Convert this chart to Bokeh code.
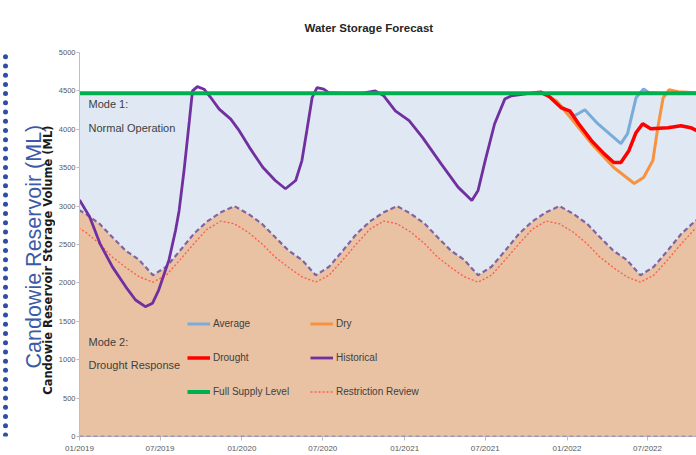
import math
import pandas as pd
from bokeh.plotting import figure
from bokeh.layouts import row
from bokeh.models import (Label, Legend, LegendItem, FixedTicker,
                          DatetimeTickFormatter, Range1d, Span)
from bokeh.core.properties import value
from bokeh.embed import file_html
from bokeh.resources import INLINE

# ---------------- data ----------------
FSL = 4470

# drought trigger (Mode 1 / Mode 2 boundary), monthly, mid-month, Dec-2018 .. Nov-2022
trigger_values = [3000,
                  2900, 2770, 2600, 2420, 2300, 2100, 2210, 2420, 2640, 2800, 2920, 3000,
                  2900, 2770, 2600, 2420, 2300, 2100, 2210, 2420, 2640, 2800, 2920, 3000,
                  2900, 2770, 2600, 2420, 2300, 2100, 2210, 2420, 2640, 2800, 2920, 3000,
                  2900, 2770, 2600, 2420, 2300, 2100, 2210, 2420, 2640, 2800, 2920]
# restriction review, monthly, mid-month, Dec-2018 .. Nov-2022
restriction_values = [2770,
                      2660, 2510, 2340, 2200, 2080, 2010, 2100, 2300, 2510, 2700, 2805, 2770,
                      2660, 2510, 2340, 2200, 2080, 2010, 2100, 2300, 2510, 2700, 2805, 2770,
                      2660, 2510, 2340, 2200, 2080, 2010, 2100, 2300, 2510, 2700, 2805, 2770,
                      2660, 2510, 2340, 2200, 2080, 2010, 2100, 2300, 2510, 2700, 2805]
monthly_dates = pd.date_range("2018-12-01", periods=len(trigger_values), freq="MS") + pd.Timedelta(days=14)

hist_dates = ["2019-01-01", "2019-01-24", "2019-02-16", "2019-03-16", "2019-04-15", "2019-05-07",
              "2019-05-29", "2019-06-14", "2019-06-28", "2019-07-21", "2019-08-05", "2019-08-13",
              "2019-08-24", "2019-09-05", "2019-09-12", "2019-09-23", "2019-10-08", "2019-10-23",
              "2019-11-11", "2019-12-07", "2019-12-26", "2020-01-18", "2020-02-17", "2020-03-16",
              "2020-04-08", "2020-05-01", "2020-05-15", "2020-05-26", "2020-06-07", "2020-06-18",
              "2020-07-03", "2020-07-14", "2020-08-13", "2020-09-28", "2020-10-27", "2020-11-15",
              "2020-12-11", "2021-01-11", "2021-02-10", "2021-03-24", "2021-05-01", "2021-06-01",
              "2021-06-15", "2021-07-01", "2021-07-22", "2021-08-14", "2021-08-29", "2021-09-14",
              "2021-11-01"]
hist_values = [3080, 2857, 2512, 2209, 1949, 1777,
               1690, 1734, 1907, 2296, 2685, 2944,
               3463, 4112, 4500, 4556, 4522, 4414,
               4263, 4133, 3982, 3765, 3506, 3333,
               3226, 3333, 3593, 3982, 4414, 4543,
               4522, 4478, 4470, 4470, 4500, 4436,
               4241, 4112, 3895, 3550, 3247, 3074,
               3204, 3593, 4069, 4393, 4436, 4449,
               4488]

avg_dates = ["2021-11-01", "2021-11-27", "2021-12-12", "2022-01-18", "2022-02-10", "2022-03-11",
             "2022-05-02", "2022-05-17", "2022-06-05", "2022-06-22", "2022-07-04", "2022-08-01",
             "2022-11-01"]
avg_values = [4488, 4410, 4328, 4176, 4254, 4073, 3813, 3943, 4410, 4526, 4475, 4465, 4465]

dry_dates = ["2021-11-01", "2021-12-08", "2022-01-11", "2022-02-25", "2022-04-16", "2022-06-01",
             "2022-06-22", "2022-07-13", "2022-07-24", "2022-08-05", "2022-08-18", "2022-09-08",
             "2022-10-20", "2022-11-01"]
dry_values = [4488, 4371, 4137, 3813, 3502, 3294, 3372, 3593, 4021, 4410, 4514, 4488, 4475, 4470]

drought_dates = ["2021-11-01", "2021-11-20", "2021-12-19", "2022-01-07", "2022-01-27", "2022-02-25",
                 "2022-03-25", "2022-04-16", "2022-05-02", "2022-05-20", "2022-06-05", "2022-06-20",
                 "2022-07-08", "2022-08-16", "2022-09-14", "2022-10-06", "2022-10-20", "2022-11-01"]
drought_values = [4488, 4436, 4280, 4241, 4073, 3852, 3683, 3567, 3567, 3722, 3956, 4073,
                  4008, 4021, 4047, 4021, 3982, 3950]

tick_dates = ["2019-01-01", "2019-07-01", "2020-01-01", "2020-07-01",
              "2021-01-01", "2021-07-01", "2022-01-01", "2022-07-01", "2023-01-01"]
y_ticks = [0, 500, 1000, 1500, 2000, 2500, 3000, 3500, 4000, 4500, 5000]

# ---------------- styles ----------------
FONT = "Liberation Sans"
C_TRIG = "#8064a2"
C_REST = "#ff5f4f"
C_HIST = "#7030a0"
C_AVG = "#79acd8"
C_DRY = "#f7923f"
C_DROUGHT = "#ff0000"
C_FSL = "#00b050"
C_SLIDE = "#3b5aa8"

H = 455
DECO_W = 55

x_start = pd.Timestamp("2019-01-01")
x_end = pd.Timestamp("2022-10-19")

# ---------- left slide decoration (dotted rule, captions) ----------
deco = figure(width=DECO_W, height=H, x_range=Range1d(0, DECO_W), y_range=Range1d(0, H),
              output_backend="svg", toolbar_location=None,
              min_border_left=0, min_border_right=0, min_border_top=0, min_border_bottom=0)
deco.axis.visible = False
deco.grid.visible = False
deco.outline_line_color = None
dot_y = [H - (5 + 10.93 * k) for k in range(42)]
deco.scatter(x=[5] * len(dot_y), y=dot_y, size=5, fill_color="#2f4fa6", line_color=None)
deco.text(x=[33], y=[H - 230], text=["Candowie Reservoir (ML)"], angle=math.pi / 2,
          text_font=value(FONT), text_font_size=value("21.5px"), text_color=C_SLIDE,
          text_align="center", text_baseline="middle")
deco.text(x=[47.5], y=[H - 246], text=["Candowie Reservoir Storage Volume (ML)"], angle=math.pi / 2,
          text_font=value("DejaVu Sans"), text_font_style="bold", text_font_size=value("11.5px"),
          text_color="#1a1a1a", text_align="center", text_baseline="middle")

# ---------- main chart ----------
p = figure(width=696 - DECO_W, height=H, x_axis_type="datetime",
           x_range=Range1d(x_start, x_end), y_range=Range1d(0, 5000),
           output_backend="svg", toolbar_location=None,
           min_border_left=76 - DECO_W, min_border_right=0, min_border_top=52, min_border_bottom=18)
p.outline_line_color = None
p.xgrid.visible = False
p.ygrid.ticker = FixedTicker(ticks=[5000])
p.ygrid.grid_line_color = "#d9d9d9"

p.title.text = "Water Storage Forecast"
p.title.align = "left"
p.title.offset = 225
p.title.standoff = 37
p.title.text_font = FONT
p.title.text_font_size = "11.5px"
p.title.text_font_style = "bold"
p.title.text_color = "#262626"

mdates = pd.to_datetime(monthly_dates)
p.varea(x=mdates, y1=trigger_values, y2=[FSL] * len(trigger_values), fill_color="#dfe8f3")
p.varea(x=mdates, y1=[0] * len(trigger_values), y2=trigger_values, fill_color="#e9c2a3")

p.add_layout(Span(location=0, dimension="width", line_color=C_TRIG, line_dash="4 3", line_width=1.5))
r_trig = p.line(mdates, trigger_values, line_color=C_TRIG, line_dash="5 3", line_width=2.2)
r_rest = p.line(mdates, restriction_values, line_color=C_REST, line_dash="2 2", line_width=1.4)

r_avg = p.line(pd.to_datetime(avg_dates), avg_values, line_color=C_AVG, line_width=3)
r_dry = p.line(pd.to_datetime(dry_dates), dry_values, line_color=C_DRY, line_width=3)
r_dr = p.line(pd.to_datetime(drought_dates), drought_values, line_color=C_DROUGHT, line_width=3.5)
r_hist = p.line(pd.to_datetime(hist_dates), hist_values, line_color=C_HIST, line_width=2.8)
r_fsl = p.line([mdates[0], mdates[-1]], [FSL, FSL], line_color=C_FSL, line_width=4)

# axes
p.xaxis.ticker = FixedTicker(ticks=[pd.Timestamp(d).value // 10**6 for d in tick_dates])
fmt = "%m/%Y"
p.xaxis.formatter = DatetimeTickFormatter(years=fmt, months=fmt, days=fmt, hours=fmt,
                                          minutes=fmt, seconds=fmt, milliseconds=fmt)
p.xaxis.axis_line_color = "#bfbfbf"
p.xaxis.major_tick_line_color = "#bfbfbf"
p.xaxis.major_tick_out = 4
p.xaxis.major_tick_in = 0
p.xaxis.minor_tick_line_color = None
p.xaxis.major_label_standoff = 3
p.xaxis.major_label_text_font = FONT
p.xaxis.major_label_text_font_size = "8px"
p.xaxis.major_label_text_color = "#595959"

p.yaxis.ticker = FixedTicker(ticks=y_ticks)
p.yaxis.axis_line_color = "#bfbfbf"
p.yaxis.major_tick_line_color = "#bfbfbf"
p.yaxis.major_tick_out = 3
p.yaxis.major_tick_in = 0
p.yaxis.minor_tick_line_color = None
p.yaxis.major_label_standoff = 1
p.yaxis.major_label_text_font = FONT
p.yaxis.major_label_text_font_size = "7.5px"
p.yaxis.major_label_text_color = "#595959"

# legends (two columns)
leg_kw = dict(background_fill_alpha=0, border_line_alpha=0, padding=0, margin=0,
              spacing=21, glyph_width=23, glyph_height=13, label_height=13, label_standoff=3,
              label_text_font=FONT, label_text_font_size="10px", label_text_color="#404040")
leg1 = Legend(items=[LegendItem(label="Average", renderers=[r_avg]),
                     LegendItem(label="Drought", renderers=[r_dr]),
                     LegendItem(label="Full Supply Level", renderers=[r_fsl])],
              location=(108, 38), **leg_kw)
leg2 = Legend(items=[LegendItem(label="Dry", renderers=[r_dry]),
                     LegendItem(label="Historical", renderers=[r_hist]),
                     LegendItem(label="Restriction Review", renderers=[r_rest])],
              location=(231, 38), **leg_kw)
p.add_layout(leg1, "center")
p.add_layout(leg2, "center")

# mode captions (screen units relative to the plot frame; frame is 620 x 385)
def txt(x, y, s):
    p.add_layout(Label(x=x, y=y, x_units="screen", y_units="screen", text=s,
                       text_font=FONT, text_font_size="11px", text_color="#404040",
                       text_baseline="middle", text_align="left"))

txt(9, 333, "Mode 1:")
txt(9, 309, "Normal Operation")
txt(9, 95, "Mode 2:")
txt(9, 72, "Drought Response")

layout = row(deco, p, spacing=0)
open("out.html", "w").write(file_html(layout, INLINE))
